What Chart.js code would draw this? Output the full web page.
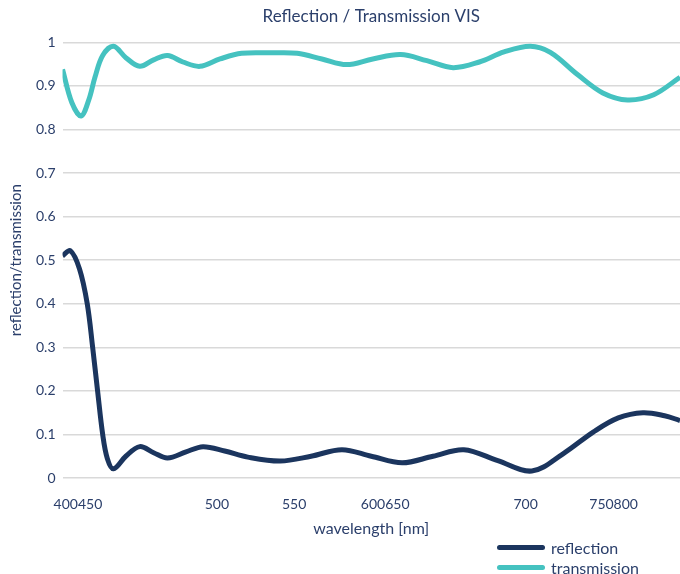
<!DOCTYPE html>
<html lang="en">
<head>
    <meta charset="UTF-8">
    <title>Reflection / Transmission VIS</title>
    <script src="https://cdn.jsdelivr.net/npm/chart.js"></script>
    <style>
        body {
            margin: 0;
            font-family: Lato, "Open Sans", sans-serif;
        }

        .wrap {
            position: relative;
            width: 680px;
            height: 574px;
        }

        .legend {
            position: absolute;
            left: 497px;
            top: 537px;
            font-size: 16px;
            color: #2b3f6b;
        }

        .legend div {
            display: flex;
            align-items: center;
            height: 20px;
        }

        .legend span.swatch {
            display: inline-block;
            width: 48px;
            height: 5px;
            border-radius: 3px;
            margin-right: 6px;
        }
    </style>
</head>
<body>
<div class="wrap">
    <canvas id="rtChart" width="680" height="574"></canvas>
    <div class="legend" id="legend"></div>
</div>

<script>
    // wavelength in nm
    const reflWavelength = [400, 405, 411, 416, 419.5, 422.7, 426, 429, 433, 441, 450, 459, 468, 480, 491, 505, 520, 541, 561, 581, 600, 620, 640, 660, 682, 704, 724, 744, 760, 776, 790, 800];
    const reflValues = [0.510, 0.522, 0.48, 0.40, 0.30, 0.20, 0.10, 0.045, 0.021, 0.05, 0.072, 0.058, 0.046, 0.06, 0.072, 0.062, 0.048, 0.039, 0.05, 0.065, 0.05, 0.035, 0.05, 0.065, 0.04, 0.016, 0.055, 0.106, 0.138, 0.150, 0.143, 0.132];

    const transWavelength = [400, 406, 412, 417, 421, 426, 433, 441, 450, 459, 468, 478, 489, 502, 516, 535, 552, 568, 584, 601, 619, 636, 653, 670, 686, 703, 716, 734, 750, 766, 783, 800];
    const transValues = [0.938, 0.862, 0.831, 0.868, 0.92, 0.97, 0.991, 0.965, 0.945, 0.96, 0.970, 0.955, 0.945, 0.962, 0.975, 0.976, 0.975, 0.962, 0.949, 0.962, 0.972, 0.958, 0.942, 0.955, 0.978, 0.991, 0.977, 0.925, 0.884, 0.868, 0.88, 0.920];

    // x tick labels as they appear in the original (some are run together)
    const xTickValues = [410, 500, 550, 609, 700, 757];
    const xTickLabels = ['400450', '500', '550', '600650', '700', '750800'];

    const textColor = '#2b3f6b';
    const reflColor = '#1b355e';
    const transColor = '#45c2c0';

    function toPoints(xs, ys) {
        return xs.map((x, i) => ({ x: x, y: ys[i] }));
    }

    const datasets = [{
        label: 'reflection',
        data: toPoints(reflWavelength, reflValues),
        borderColor: reflColor,
        backgroundColor: reflColor,
        borderWidth: 5,
        pointRadius: 0,
        tension: 0.35,
        fill: false
    }, {
        label: 'transmission',
        data: toPoints(transWavelength, transValues),
        borderColor: transColor,
        backgroundColor: transColor,
        borderWidth: 5,
        pointRadius: 0,
        tension: 0.35,
        fill: false
    }];

    Chart.defaults.font.family = 'Lato, "Open Sans", sans-serif';
    Chart.defaults.color = textColor;

    new Chart(document.getElementById('rtChart'), {
        type: 'line',
        data: { datasets: datasets },
        options: {
            responsive: false,
            animation: false,
            layout: {
                padding: { left: 7, right: 0, top: 4, bottom: 36 }
            },
            plugins: {
                legend: { display: false },
                tooltip: { enabled: false },
                title: {
                    display: true,
                    fullSize: false,
                    text: 'Reflection / Transmission VIS',
                    color: textColor,
                    font: { size: 17, weight: 'normal' },
                    padding: { top: 2, bottom: 16 }
                }
            },
            scales: {
                x: {
                    type: 'linear',
                    min: 400,
                    max: 800,
                    grid: { display: false },
                    border: { display: false },
                    afterBuildTicks: axis => {
                        axis.ticks = xTickValues.map(v => ({ value: v }));
                    },
                    ticks: {
                        autoSkip: false,
                        maxRotation: 0,
                        padding: 10,
                        font: { size: 14 },
                        callback: (value, index) => xTickLabels[index]
                    },
                    title: {
                        display: true,
                        text: 'wavelength [nm]',
                        font: { size: 16 },
                        padding: { top: -4, bottom: 0 }
                    }
                },
                y: {
                    min: 0,
                    max: 1,
                    grid: { color: '#d9d9d9', lineWidth: 1.5, drawTicks: false },
                    border: { display: false },
                    ticks: {
                        stepSize: 0.1,
                        padding: 7,
                        font: { size: 14 },
                        callback: value => String(parseFloat(value.toFixed(1)))
                    },
                    title: {
                        display: true,
                        text: 'reflection/transmission',
                        font: { size: 15 },
                        padding: { top: 0, bottom: 4 }
                    }
                }
            }
        }
    });

    const legendEl = document.getElementById('legend');
    datasets.forEach(ds => {
        const row = document.createElement('div');
        row.innerHTML = '<span class="swatch" style="background:' + ds.borderColor + '"></span>' + ds.label;
        legendEl.appendChild(row);
    });
</script>
</body>
</html>
